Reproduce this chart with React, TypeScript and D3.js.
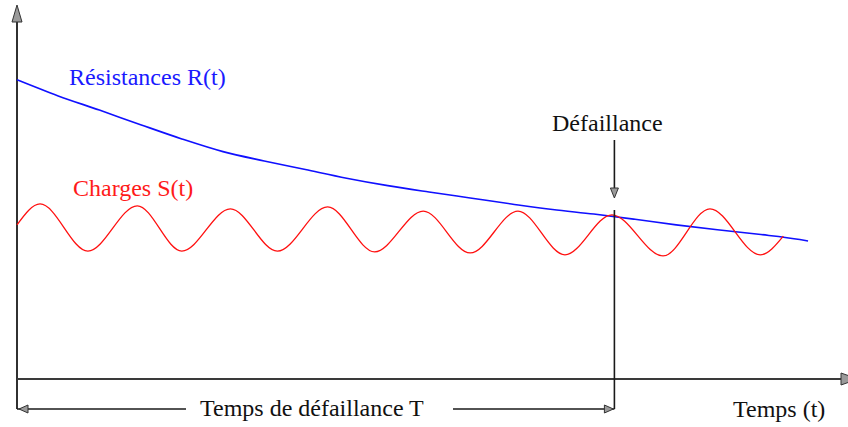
import React from "react";
import * as d3 from "d3";

const WIDTH = 848;
const HEIGHT = 427;

// Time in arbitrary units, values in arbitrary stress units
const resistanceT = [0, 0.5, 1, 1.5, 2, 2.5, 3, 3.5, 4, 4.5, 5, 5.5, 6, 6.5, 7, 7.5, 8, 8.5, 9, 9.5, 9.6];
const resistanceV = [8.0, 7.57, 7.19, 6.8, 6.42, 6.08, 5.83, 5.6, 5.37, 5.17, 5.0, 4.84, 4.68, 4.53, 4.41, 4.27, 4.12, 3.99, 3.87, 3.73, 3.69];

const loadT = [0, 0.28, 0.86, 1.46, 2.0, 2.59, 3.16, 3.77, 4.34, 4.93, 5.5, 6.08, 6.65, 7.22, 7.84, 8.41, 9.02, 9.3];
const loadV = [4.12, 4.68, 3.42, 4.63, 3.42, 4.55, 3.42, 4.6, 3.4, 4.49, 3.37, 4.49, 3.32, 4.39, 3.29, 4.55, 3.32, 3.82];

const failureTime = 7.25;

const labelResistance = "Résistances R(t)";
const labelLoad = "Charges S(t)";
const labelFailure = "Défaillance";
const labelFailureTime = "Temps de défaillance T";
const labelTime = "Temps (t)";

const FONT = "'Liberation Serif', 'Times New Roman', serif";

export default function App() {
  const x = d3.scaleLinear().domain([0, 10]).range([17, 841]);
  const y = d3.scaleLinear().domain([0, 10]).range([379, 5]);

  const line = d3
    .line<[number, number]>()
    .x((d) => x(d[0]))
    .y((d) => y(d[1]))
    .curve(d3.curveMonotoneX);

  const resistancePath = line(
    resistanceT.map((t, i) => [t, resistanceV[i]] as [number, number])
  );
  const loadPath = line(
    loadT.map((t, i) => [t, loadV[i]] as [number, number])
  );

  const x0 = x(0);
  const xEnd = x(10);
  const y0 = y(0);
  const yTop = y(10);
  const xf = x(failureTime);
  const bracketY = 409;

  const arrowFill = "#9a9a9a";
  const axisStroke = "#1a1a1a";

  return (
    <svg
      width={WIDTH}
      height={HEIGHT}
      style={{ position: "absolute", left: 0, top: 0, background: "#fff" }}
    >
      {/* vertical axis, extended down to the failure-time bracket */}
      <line x1={x0} y1={yTop + 14} x2={x0} y2={bracketY} stroke={axisStroke} strokeWidth={1.8} />
      <path
        d={`M${x0},${yTop} L${x0 + 5},${yTop + 17} L${x0 - 5},${yTop + 17} Z`}
        fill={arrowFill}
        stroke="#333"
        strokeWidth={1}
      />

      {/* time axis */}
      <line x1={x0} y1={y0} x2={xEnd} y2={y0} stroke="#3a3a3a" strokeWidth={1.8} />
      <path
        d={`M${xEnd},${y0 - 6} L${xEnd + 17},${y0} L${xEnd},${y0 + 6} Z`}
        fill={arrowFill}
        stroke="#333"
        strokeWidth={1}
      />

      {/* resistance and load curves */}
      <path d={resistancePath ?? ""} fill="none" stroke="#1010ff" strokeWidth={1.6} />
      <path d={loadPath ?? ""} fill="none" stroke="#ff1010" strokeWidth={1.3} />

      {/* failure marker */}
      <line x1={xf} y1={210} x2={xf} y2={bracketY} stroke={axisStroke} strokeWidth={1.6} />
      <line x1={xf} y1={140} x2={xf} y2={190} stroke={axisStroke} strokeWidth={1.6} />
      <path
        d={`M${xf - 4},${188} L${xf + 4},${188} L${xf},${198} Z`}
        fill={arrowFill}
        stroke="#333"
        strokeWidth={1}
      />

      {/* failure-time bracket */}
      <line x1={x0} y1={bracketY} x2={186} y2={bracketY} stroke={axisStroke} strokeWidth={1.6} />
      <line x1={453} y1={bracketY} x2={xf} y2={bracketY} stroke={axisStroke} strokeWidth={1.6} />
      <path
        d={`M${x0 + 2},${bracketY} L${x0 + 11},${bracketY - 4} L${x0 + 11},${bracketY + 4} Z`}
        fill={arrowFill}
        stroke="#333"
        strokeWidth={1}
      />
      <path
        d={`M${xf - 1},${bracketY} L${xf - 10},${bracketY - 4} L${xf - 10},${bracketY + 4} Z`}
        fill={arrowFill}
        stroke="#333"
        strokeWidth={1}
      />

      {/* labels */}
      <g fontFamily={FONT} fontSize={24}>
        <text x={69} y={85} fill="#1a1aff">{labelResistance}</text>
        <text x={73} y={196} fill="#ff1a1a">{labelLoad}</text>
        <text x={552} y={131} fill="#111">{labelFailure}</text>
        <text x={200} y={416} fill="#111">{labelFailureTime}</text>
        <text x={733} y={417} fill="#111">{labelTime}</text>
      </g>
    </svg>
  );
}
